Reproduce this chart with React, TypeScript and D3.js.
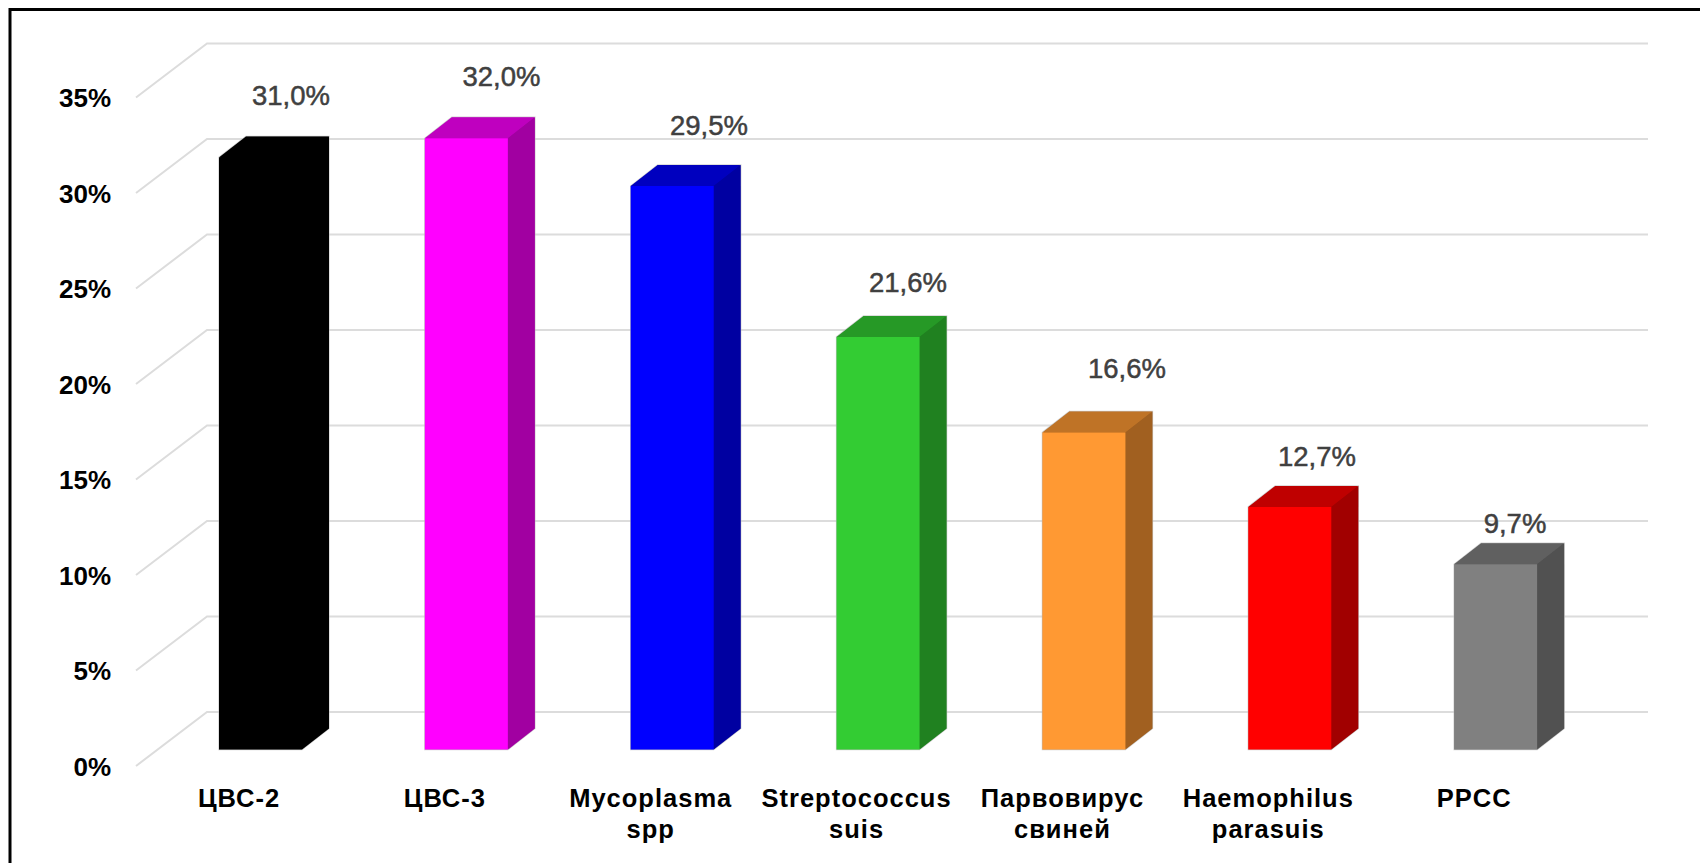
import React from "react";
import * as d3 from "d3";

// Share of positive samples per pathogen
const categories = [
  ["ЦВС-2"],
  ["ЦВС-3"],
  ["Mycoplasma", "spp"],
  ["Streptococcus", "suis"],
  ["Парвовирус", "свиней"],
  ["Haemophilus", "parasuis"],
  ["PPCC"],
];
const values = [31.0, 32.0, 29.5, 21.6, 16.6, 12.7, 9.7];
const valueLabels = ["31,0%", "32,0%", "29,5%", "21,6%", "16,6%", "12,7%", "9,7%"];
const yTicks = [0, 5, 10, 15, 20, 25, 30, 35];
const barColors = ["#000000", "#ff00ff", "#0000ff", "#33cc33", "#ff9933", "#ff0000", "#808080"];

const WIDTH = 1700;
const HEIGHT = 863;

// Back wall of the 3D plot
const y = d3.scaleLinear().domain([0, 35]).range([712, 43.5]);
const x = d3.scaleBand<number>().domain(d3.range(categories.length)).range([207, 1648]);

// Projection offsets: floor edge, and bar front/back planes
const FLOOR_DX = -71;
const FLOOR_DY = 54;
const BAR_FRONT_DY = 37.5;
const BAR_DEPTH_DX = 27;
const BAR_DEPTH_DY = -21;
const BAR_INSET = 12;
const BAR_WIDTH = 83;

// Hand-placed value labels: horizontal centre and baseline
const labelCentreX = [291, 501.5, 709, 908, 1127, 1317, 1515];
const labelBaselineY = [105, 86, 135, 292, 378, 466, 533];

const SANS = '"Liberation Sans", Arial, sans-serif';
const line = d3.line();

const shade = (color: string, k: number) => {
  const c = d3.rgb(color);
  return d3.rgb(c.r * k, c.g * k, c.b * k).formatHex();
};

function Bar({ index }: { index: number }) {
  const color = barColors[index];
  const x0 = x(index)! + BAR_INSET;
  const x1 = x0 + BAR_WIDTH;
  const yBottom = y(0) + BAR_FRONT_DY;
  const yTop = y(values[index]) + BAR_FRONT_DY;
  const dx = BAR_DEPTH_DX;
  const dy = BAR_DEPTH_DY;

  const outline = line([
    [x0, yBottom],
    [x0, yTop],
    [x0 + dx, yTop + dy],
    [x1 + dx, yTop + dy],
    [x1 + dx, yBottom + dy],
    [x1, yBottom],
  ]) + "Z";
  const front = line([[x0, yBottom], [x0, yTop], [x1, yTop], [x1, yBottom]]) + "Z";
  const top = line([[x0, yTop], [x0 + dx, yTop + dy], [x1 + dx, yTop + dy], [x1, yTop]]) + "Z";
  const side = line([[x1, yTop], [x1 + dx, yTop + dy], [x1 + dx, yBottom + dy], [x1, yBottom]]) + "Z";

  return (
    <g>
      <path d={outline} fill={shade(color, 0.63)} stroke="#bfbfbf" strokeOpacity={0.7} strokeWidth={1.4} />
      <path d={top} fill={shade(color, 0.75)} />
      <path d={side} fill={shade(color, 0.63)} />
      <path d={front} fill={color} />
    </g>
  );
}

export default function App() {
  const [xLeft, xRight] = x.range();
  return (
    <svg
      width={WIDTH}
      height={HEIGHT}
      viewBox={`0 0 ${WIDTH} ${HEIGHT}`}
      style={{ position: "absolute", left: 0, top: 0, display: "block", background: "#fff" }}
    >
      {/* Gridlines along the wall and across the floor edge */}
      {yTicks.map((t) => (
        <path
          key={t}
          d={line([
            [xLeft + FLOOR_DX, y(t) + FLOOR_DY],
            [xLeft, y(t)],
            [xRight, y(t)],
          ])!}
          fill="none"
          stroke="#dcdcdc"
          strokeWidth={2}
        />
      ))}

      {values.map((_, i) => (
        <Bar key={i} index={i} />
      ))}

      {/* Value axis labels */}
      {yTicks.map((t) => (
        <text
          key={t}
          x={111}
          y={y(t) + FLOOR_DY + 9.5}
          textAnchor="end"
          fontFamily={SANS}
          fontWeight="bold"
          fontSize={26}
          fill="#000"
        >
          {t}%
        </text>
      ))}

      {/* Category labels */}
      {categories.map((lines, i) => (
        <text
          key={i}
          textAnchor="middle"
          fontFamily={SANS}
          fontWeight="bold"
          fontSize={25.5}
          letterSpacing={1}
          fill="#000"
        >
          {lines.map((s, j) => (
            <tspan key={j} x={x(i)! + 32} y={807 + j * 31}>
              {s}
            </tspan>
          ))}
        </text>
      ))}

      {/* Value labels above the bars */}
      {valueLabels.map((s, i) => (
        <text
          key={i}
          x={labelCentreX[i]}
          y={labelBaselineY[i]}
          textAnchor="middle"
          fontFamily={SANS}
          fontSize={27.5}
          fill="#404040"
          stroke="#404040"
          strokeWidth={0.5}
        >
          {s}
        </text>
      ))}

      {/* Outer frame, open on the right and at the bottom */}
      <path
        d={line([[10, HEIGHT], [10, 9.5], [WIDTH, 9.5]])!}
        fill="none"
        stroke="#000"
        strokeWidth={3}
      />
    </svg>
  );
}
